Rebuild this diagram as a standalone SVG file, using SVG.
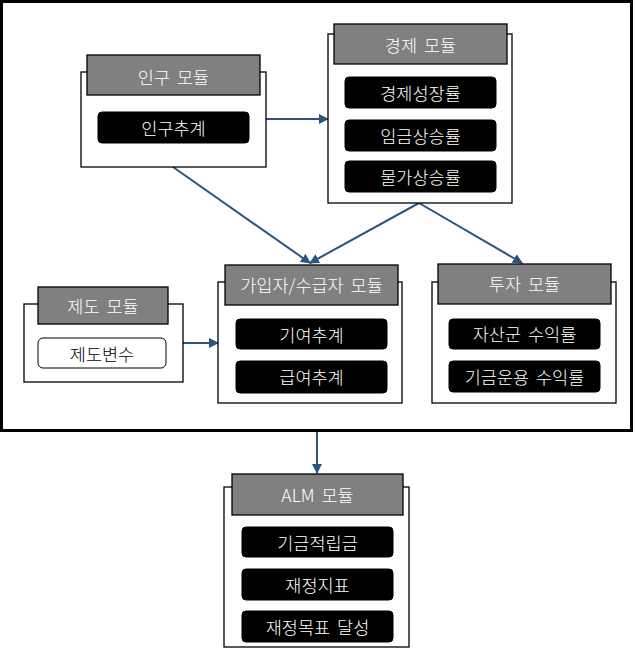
<svg xmlns="http://www.w3.org/2000/svg" width="635" height="655" viewBox="0 0 635 655">
<style>
.box{fill:#fff;stroke:#000;stroke-width:1.3}
.hdr{fill:#808080;stroke:#000;stroke-width:1.3}
.pill{fill:#000;stroke:#000;stroke-width:1}
.wpill{fill:#fff;stroke:#000;stroke-width:1}
.t{font-family:"Noto Sans CJK KR","Noto Sans",sans-serif;font-size:17.5px;font-weight:300;word-spacing:3px;fill:#fff;text-anchor:middle;dominant-baseline:central}
.tb{fill:#000}
.c{stroke:#2B5580;stroke-width:2;fill:none;marker-end:url(#ah)}
</style>
<defs>
<marker id="ah" viewBox="0 0 10 10" refX="9" refY="5" markerWidth="5" markerHeight="5" orient="auto" markerUnits="strokeWidth">
<path d="M0,0 L10,5 L0,10 z" fill="#2B5580"/>
</marker>
</defs>
<rect x="0" y="0" width="635" height="655" fill="#fff"/>
<rect id="frame" x="1.5" y="1.5" width="630" height="429" fill="none" stroke="#000" stroke-width="3"/>
<g id="connectors">
<path class="c" d="M266,119 L328,119"/>
<path class="c" d="M173,167 L310,263"/>
<path class="c" d="M419,203 L310,263"/>
<path class="c" d="M419,203 L522,263"/>
<path class="c" d="M183,343 L218,343"/>
<path class="c" d="M317,432 L317,473"/>
</g>
<g id="pop">
<rect class="box" x="81" y="72" width="185" height="95"/>
<rect class="hdr" x="87" y="55" width="173" height="40"/>
<text class="t" x="173.5" y="76">인구 모듈</text>
<rect class="pill" x="98" y="112" width="151" height="31" rx="4"/>
<text class="t" x="173.5" y="127">인구추계</text>
</g>
<g id="econ">
<rect class="box" x="328" y="34" width="184" height="169"/>
<rect class="hdr" x="334" y="24" width="173" height="40"/>
<text class="t" x="420.5" y="44">경제 모듈</text>
<rect class="pill" x="345" y="77" width="151" height="31" rx="4"/>
<text class="t" x="420.5" y="92">경제성장률</text>
<rect class="pill" x="345" y="120" width="151" height="31" rx="4"/>
<text class="t" x="420.5" y="135">임금상승률</text>
<rect class="pill" x="345" y="161" width="151" height="31" rx="4"/>
<text class="t" x="420.5" y="176">물가상승률</text>
</g>
<g id="member">
<rect class="box" x="218" y="282" width="184" height="121"/>
<rect class="hdr" x="225" y="265" width="173" height="40"/>
<text class="t" x="311.5" y="284">가입자/수급자 모듈</text>
<rect class="pill" x="236" y="319" width="151" height="30" rx="4"/>
<text class="t" x="311.5" y="334">기여추계</text>
<rect class="pill" x="236" y="361" width="151" height="32" rx="4"/>
<text class="t" x="311.5" y="376">급여추계</text>
</g>
<g id="inst">
<rect class="box" x="24" y="304" width="159" height="78"/>
<rect class="hdr" x="38" y="287" width="130" height="37"/>
<text class="t" x="103" y="305">제도 모듈</text>
<rect class="wpill" x="38" y="338" width="128" height="30" rx="5"/>
<text class="t tb" x="102" y="353">제도변수</text>
</g>
<g id="invest">
<rect class="box" x="432" y="282" width="184" height="121"/>
<rect class="hdr" x="438" y="264" width="173" height="40"/>
<text class="t" x="524.5" y="283">투자 모듈</text>
<rect class="pill" x="449" y="319" width="151" height="30" rx="4"/>
<text class="t" x="524.5" y="333">자산군 수익률</text>
<rect class="pill" x="449" y="361" width="151" height="31" rx="4"/>
<text class="t" x="524.5" y="376">기금운용 수익률</text>
</g>
<g id="alm">
<rect class="box" x="224" y="487" width="185" height="160"/>
<rect class="hdr" x="232" y="474" width="171" height="41"/>
<text class="t" x="317.5" y="494">ALM 모듈</text>
<rect class="pill" x="242" y="527" width="151" height="30" rx="4"/>
<text class="t" x="317.5" y="542">기금적립금</text>
<rect class="pill" x="242" y="569" width="151" height="31" rx="4"/>
<text class="t" x="317.5" y="584">재정지표</text>
<rect class="pill" x="242" y="611" width="151" height="31" rx="4"/>
<text class="t" x="317.5" y="626">재정목표 달성</text>
</g>
</svg>
